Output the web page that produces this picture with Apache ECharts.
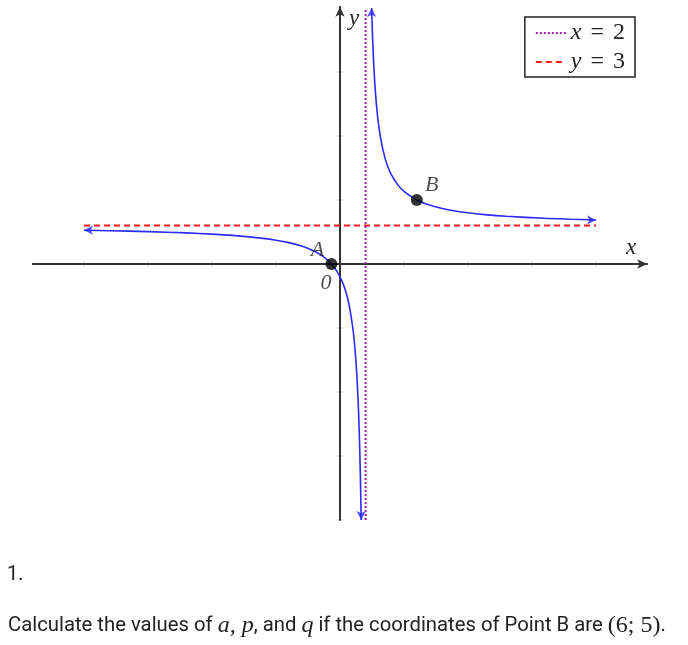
<!DOCTYPE html>
<html>
<head>
<meta charset="utf-8">
<script src="https://cdn.jsdelivr.net/npm/echarts@6/dist/echarts.min.js"></script>
<style>
  html, body { margin: 0; padding: 0; background: #fff; }
  #chart { width: 688px; height: 645px; }
</style>
</head>
<body>
<div id="chart"></div>
<script>
// ---- data ----
const xTicks = [-20, -15, -10, -5, 5, 10, 15, 20];
const yTicks = [-20, -15, -10, -5, 5, 10, 15, 20];
// hyperbola branches
const leftBranch = [[-20, 2.64], [-18, 2.6], [-15, 2.53], [-12, 2.43], [-10, 2.33], [-8, 2.2], [-6, 2],
  [-5, 1.86], [-4, 1.67], [-3, 1.4], [-2, 1], [-1.5, 0.71], [-1, 0.33], [-0.67, 0], [-0.3, -0.48],
  [0, -1], [0.25, -1.57], [0.5, -2.33], [0.75, -3.4], [1, -5], [1.1, -5.89], [1.2, -7], [1.3, -8.43],
  [1.4, -10.33], [1.45, -11.55], [1.5, -13], [1.55, -14.78], [1.6, -17], [1.63, -18.62], [1.652, -20]];
const rightBranch = [[2.47, 20], [2.5, 19], [2.55, 17.55], [2.6, 16.33], [2.7, 14.43], [2.8, 13],
  [2.9, 11.89], [3, 11], [3.2, 9.67], [3.5, 8.33], [3.75, 7.57], [4, 7], [4.5, 6.2], [5, 5.67], [6, 5],
  [7, 4.6], [8, 4.33], [9, 4.14], [10, 4], [11.5, 3.84], [13, 3.73], [16, 3.57], [18, 3.5], [20, 3.44]];
const asymptoteX = [[2, -20], [2, 20]];   // x = 2
const asymptoteY = [[-20, 3], [20, 3]];   // y = 3
const pointA = [-0.67, 0];
const pointB = [6, 5];
const origin = [0, 0];

const serif = 'Liberation Serif';
const arrowEnds = [
  { value: leftBranch[0], symbolRotate: 90 },
  { value: leftBranch[leftBranch.length - 1], symbolRotate: 180 },
  { value: rightBranch[0], symbolRotate: 0 },
  { value: rightBranch[rightBranch.length - 1], symbolRotate: -90 }
];

const chart = echarts.init(document.getElementById('chart'), null, { renderer: 'canvas' });
const blue = '#2b2bff';

chart.setOption({
  animation: false,
  backgroundColor: '#ffffff',
  grid: { left: 32.8, right: 40.8, top: 6.7, bottom: 125, containLabel: false },
  xAxis: {
    type: 'value', min: -24, max: 24, z: 2,
    name: 'x', nameLocation: 'end', nameGap: -16,
    nameTextStyle: { fontFamily: serif, fontStyle: 'italic', fontSize: 23, color: '#222',
      align: 'center', verticalAlign: 'bottom', padding: [0, 0, 5, 0] },
    axisLine: { onZero: true, lineStyle: { color: '#333', width: 2 },
      symbol: ['none', 'arrow'], symbolSize: [7, 10] },
    axisTick: { show: false }, axisLabel: { show: false }, splitLine: { show: false }
  },
  yAxis: {
    type: 'value', min: -20, max: 20.1, z: 2,
    name: 'y', nameLocation: 'end', nameGap: -12,
    nameTextStyle: { fontFamily: serif, fontStyle: 'italic', fontSize: 23, color: '#222',
      align: 'left', verticalAlign: 'middle', padding: [0, 0, 0, 9] },
    axisLine: { onZero: true, lineStyle: { color: '#333', width: 2 },
      symbol: ['none', 'arrow'], symbolSize: [7, 10] },
    axisTick: { show: false }, axisLabel: { show: false }, splitLine: { show: false }
  },
  legend: {
    data: ['x = 2', 'y = 3'],
    orient: 'vertical', right: 53, top: 17,
    backgroundColor: '#fff', borderColor: '#222', borderWidth: 1.5, borderRadius: 0,
    padding: [4, 10, 3, 10], itemGap: 5, itemWidth: 30, itemHeight: 22,
    itemStyle: { opacity: 0 },
    formatter: function (name) {
      const p = name.split(' = ');
      return '{v|' + p[0] + '}{e|=}{d|' + p[1] + '}';
    },
    textStyle: {
      rich: {
        v: { fontFamily: serif, fontStyle: 'italic', fontSize: 24, color: '#222' },
        e: { fontFamily: serif, fontSize: 24, color: '#222', padding: [0, 9, 0, 9] },
        d: { fontFamily: serif, fontSize: 24, color: '#222' }
      }
    }
  },
  series: [
    {
      name: 'ticksX', type: 'scatter', z: 1, silent: true,
      data: xTicks.map(v => [v, 0]),
      symbol: 'rect', symbolSize: [1, 7], itemStyle: { color: '#c8c8c8' }
    },
    {
      name: 'ticksY', type: 'scatter', z: 1, silent: true,
      data: yTicks.map(v => [0, v]),
      symbol: 'rect', symbolSize: [7, 1], itemStyle: { color: '#c8c8c8' }
    },
    {
      name: 'y = 3', type: 'line', z: 3, data: asymptoteY, symbol: 'none', clip: false,
      lineStyle: { color: '#ff1a1a', width: 2, type: [6, 4] }, itemStyle: { color: '#ff1a1a' }
    },
    {
      name: 'x = 2', type: 'line', z: 3, data: asymptoteX, symbol: 'none', clip: false,
      lineStyle: { color: '#a020a8', width: 2, type: [2, 2] }, itemStyle: { color: '#a020a8' }
    },
    {
      name: 'left', type: 'line', z: 4, data: leftBranch, symbol: 'none', clip: false,
      smooth: 0.3, lineStyle: { color: blue, width: 1.6 }
    },
    {
      name: 'right', type: 'line', z: 4, data: rightBranch, symbol: 'none', clip: false,
      smooth: 0.3, lineStyle: { color: blue, width: 1.6 }
    },
    {
      name: 'arrows', type: 'scatter', z: 4, silent: true, data: arrowEnds,
      symbol: 'arrow', symbolSize: [7, 9], itemStyle: { color: blue }
    },
    {
      name: 'points', type: 'scatter', z: 5, symbol: 'circle', symbolSize: 12,
      itemStyle: { color: '#000' },
      data: [
        { value: pointA, label: { show: true, formatter: 'A', position: 'inside', offset: [-14, -14] } },
        { value: pointB, label: { show: true, formatter: 'B', position: 'inside', offset: [15, -15] } }
      ],
      label: { fontFamily: serif, fontStyle: 'italic', fontSize: 22, color: '#222' }
    },
    {
      name: 'origin', type: 'scatter', z: 5, symbolSize: 0,
      data: [{ value: origin, label: { show: true, formatter: '0', position: 'inside', offset: [-14, 19] } }],
      label: { fontFamily: serif, fontStyle: 'italic', fontSize: 22, color: '#222' }
    }
  ],
  graphic: [
    {
      type: 'text', left: 7, top: 565,
      style: { text: '1.', font: '20px Roboto', fill: '#222' }
    },
    {
      type: 'text', left: 8, top: 614,
      style: {
        text: '{n|Calculate the values of }{m|a, p}{n|, and }{m|q}{n| if the coordinates of Point B are }{s|(6; 5)}{n|.}',
        rich: {
          n: { fontFamily: 'Roboto', fontSize: 20.3, fill: '#222' },
          m: { fontFamily: serif, fontStyle: 'italic', fontSize: 24, fill: '#222' },
          s: { fontFamily: serif, fontSize: 24, fill: '#222' }
        }
      }
    }
  ]
});
</script>
</body>
</html>
